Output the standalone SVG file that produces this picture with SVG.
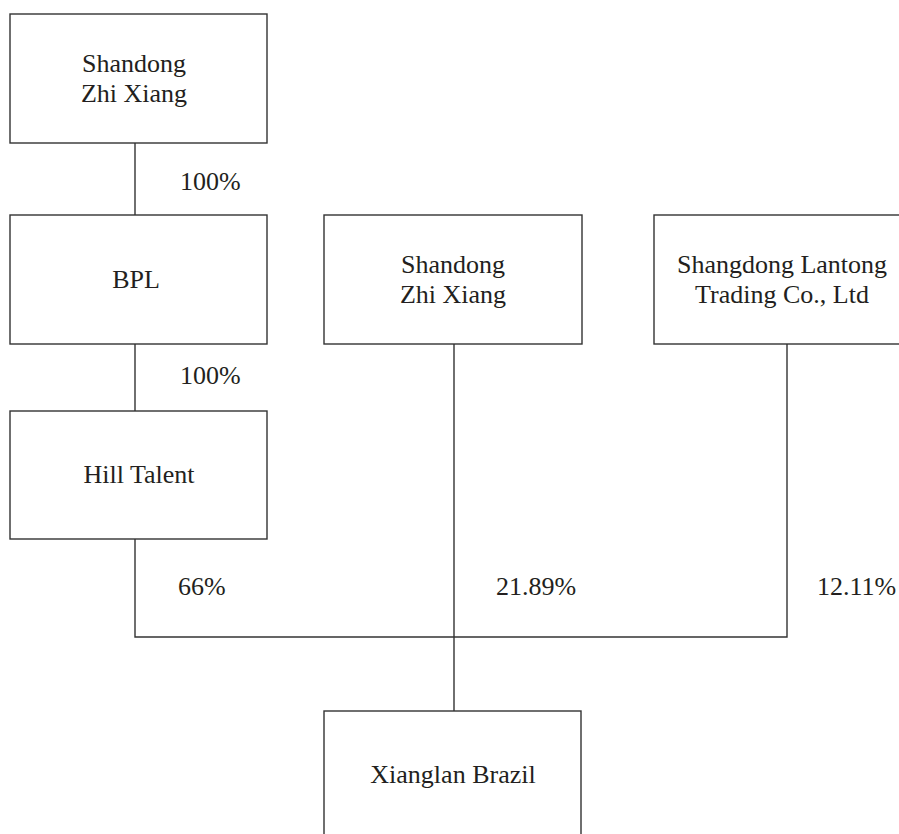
<svg xmlns="http://www.w3.org/2000/svg" width="899" height="834" viewBox="0 0 899 834">
<style>
.box{fill:#fff;stroke:#333;stroke-width:1.4}
.ln{stroke:#333;stroke-width:1.4;fill:none}
text{font-family:"Liberation Serif","Times New Roman",serif;font-size:26px;fill:#231f20}
.c{text-anchor:middle}
</style>
<rect width="899" height="834" fill="#fff"/>
<g id="connectors">
<line class="ln" x1="135" y1="143" x2="135" y2="215"/>
<line class="ln" x1="135" y1="344" x2="135" y2="411"/>
<polyline class="ln" points="135,539 135,637 787,637 787,344"/>
<line class="ln" x1="454" y1="344" x2="454" y2="711"/>
<text x="180" y="190">100%</text>
<text x="180" y="384">100%</text>
<text x="178" y="595">66%</text>
<text x="496" y="595">21.89%</text>
<text x="817" y="595">12.11%</text>
</g>
<g id="n1"><rect class="box" x="10" y="14" width="257" height="129"/><text class="c" x="134" y="72">Shandong</text><text class="c" x="134" y="102">Zhi Xiang</text></g>
<g id="n2"><rect class="box" x="10" y="215" width="257" height="129"/><text class="c" x="136" y="288">BPL</text></g>
<g id="n3"><rect class="box" x="324" y="215" width="258" height="129"/><text class="c" x="453" y="273">Shandong</text><text class="c" x="453" y="303">Zhi Xiang</text></g>
<g id="n4"><rect class="box" x="654" y="215" width="260" height="129"/><text class="c" x="782" y="273">Shangdong Lantong</text><text class="c" x="782" y="303">Trading Co., Ltd</text></g>
<g id="n5"><rect class="box" x="10" y="411" width="257" height="128"/><text class="c" x="139" y="483">Hill Talent</text></g>
<g id="n6"><rect class="box" x="324" y="711" width="257" height="140"/><text class="c" x="453" y="783">Xianglan Brazil</text></g>
</svg>
